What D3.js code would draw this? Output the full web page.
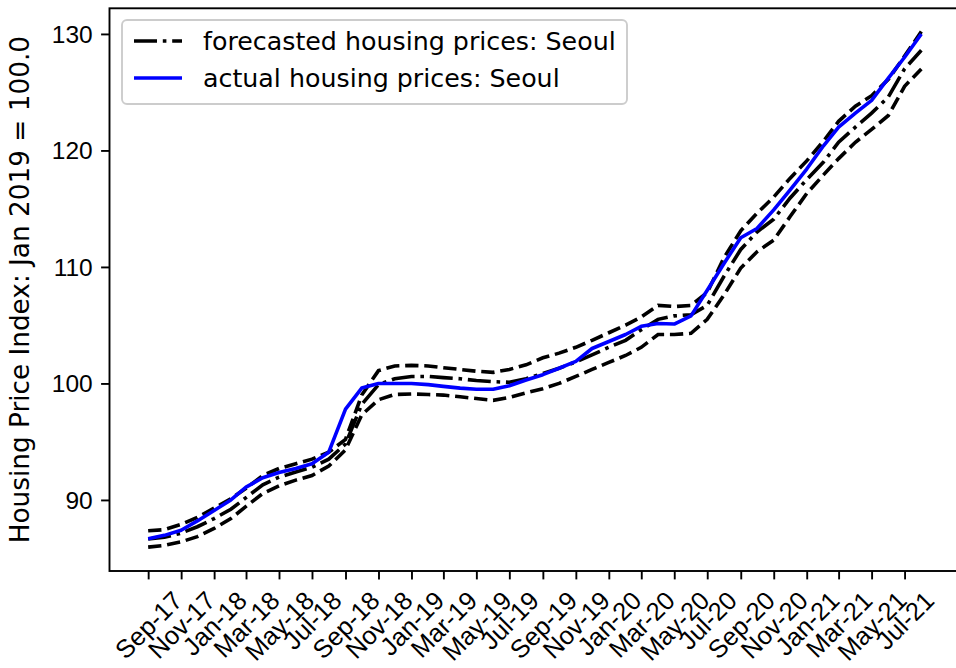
<!DOCTYPE html>
<html>
<head>
<meta charset="utf-8">
<script src="https://cdn.jsdelivr.net/npm/d3@7"></script>
<style>
	body { margin: 0; background: #fff; }
	svg { display: block; font-family: "DejaVu Sans", sans-serif; }
</style>
</head>
<body>
<script>

// monthly observations, Sep-17 .. Aug-21
let months = ["Sep-17","Oct-17","Nov-17","Dec-17","Jan-18","Feb-18","Mar-18","Apr-18","May-18","Jun-18","Jul-18","Aug-18",
	"Sep-18","Oct-18","Nov-18","Dec-18","Jan-19","Feb-19","Mar-19","Apr-19","May-19","Jun-19","Jul-19","Aug-19",
	"Sep-19","Oct-19","Nov-19","Dec-19","Jan-20","Feb-20","Mar-20","Apr-20","May-20","Jun-20","Jul-20","Aug-20",
	"Sep-20","Oct-20","Nov-20","Dec-20","Jan-21","Feb-21","Mar-21","Apr-21","May-21","Jun-21","Jul-21","Aug-21"];

let tickLabels = ["Sep-17","Nov-17","Jan-18","Mar-18","May-18","Jul-18","Sep-18","Nov-18","Jan-19","Mar-19","May-19","Jul-19",
	"Sep-19","Nov-19","Jan-20","Mar-20","May-20","Jul-20","Sep-20","Nov-20","Jan-21","Mar-21","May-21","Jul-21"];

let yTicks = [90, 100, 110, 120, 130];

let actual = [86.66, 86.96, 87.4, 88.2, 89.1, 90.0, 91.1, 91.9, 92.35, 92.7, 93.1, 94.1,
	97.8, 99.6, 100.0, 100.0, 100.0, 99.9, 99.75, 99.6, 99.5, 99.5, 99.8, 100.3,
	100.75, 101.3, 101.9, 103.0, 103.6, 104.2, 104.9, 105.15, 105.1, 105.8, 108.0, 110.3,
	112.5, 113.3, 114.9, 116.6, 118.4, 120.4, 122.0, 123.2, 124.3, 126.2, 128.0, 130.0];

let forecast = [86.65, 86.8, 87.15, 87.7, 88.4, 89.2, 90.2, 91.3, 91.95, 92.4, 92.8, 93.5,
	94.8, 98.2, 99.9, 100.4, 100.6, 100.6, 100.5, 100.4, 100.25, 100.15, 100.1, 100.4,
	100.85, 101.3, 101.85, 102.45, 103.1, 103.7, 104.6, 105.5, 105.8, 105.9, 106.7, 109.2,
	111.5, 113.0, 114.1, 115.9, 117.5, 119.0, 120.7, 122.0, 123.2, 124.6, 127.0, 128.6];

let upper = [87.35, 87.45, 87.9, 88.5, 89.3, 90.1, 91.0, 92.1, 92.7, 93.1, 93.5, 94.1,
	95.2, 99.0, 101.1, 101.5, 101.55, 101.5, 101.35, 101.2, 101.05, 100.95, 101.2, 101.6,
	102.2, 102.6, 103.1, 103.7, 104.35, 105.0, 105.7, 106.7, 106.6, 106.7, 107.8, 110.8,
	113.1, 114.6, 116.0, 117.6, 119.1, 120.8, 122.5, 123.8, 124.7, 126.1, 128.1, 130.2];

let lower = [85.95, 86.1, 86.4, 86.85, 87.55, 88.4, 89.45, 90.55, 91.2, 91.7, 92.1, 92.9,
	94.3, 97.3, 98.6, 99.05, 99.1, 99.05, 99.0, 98.85, 98.7, 98.55, 98.8, 99.2,
	99.55, 100.0, 100.6, 101.2, 101.8, 102.4, 103.1, 104.2, 104.2, 104.3, 105.5, 107.6,
	109.9, 111.3, 112.3, 114.3, 116.3, 117.9, 119.3, 120.7, 121.8, 123.0, 125.5, 127.0];

let width = 956;
let height = 668;

let plot = { left: 109.5, right: 960, top: 8.3, bottom: 571 };

let fsX = 25.5;
let fsY = 24.5;
let fsLegend = 25.3;
let fsLabel = 26.3;
let lw = 3.6;
let parseMonth = d3.timeParse("%b-%y");
let dates = months.map(parseMonth);

// matplotlib style 5% margin on the date axis
let t0 = dates[0].getTime(), t1 = dates[dates.length - 1].getTime();
let pad = (t1 - t0) * 0.05;

let xScale = d3.scaleTime()
	.domain([new Date(t0 - pad), new Date(t1 + pad)])
	.range([plot.left, plot.right]);

let yScale = d3.scaleLinear()
	.domain([83.9, 132.2])
	.range([plot.bottom, plot.top]);

let svg = d3.select("body")
	.append("svg")
		.attr("width", width)
		.attr("height", height);

svg.append("clipPath")
	.attr("id", "clip")
	.append("rect")
		.attr("x", plot.left)
		.attr("y", plot.top)
		.attr("width", plot.right - plot.left)
		.attr("height", plot.bottom - plot.top);

let line = d3.line()
	.x((d, i) => xScale(dates[i]))
	.y(d => yScale(d));

let dashed = [13.3, 5.8].join(",");
let dashdot = [23, 5.8, 3.6, 5.8].join(",");

let lines = svg.append("g").attr("clip-path", "url(#clip)");

lines.append("path")
	.attr("d", line(forecast))
	.style("fill", "none")
	.style("stroke", "#000")
	.style("stroke-width", lw)
	.style("stroke-dasharray", dashdot);

[upper, lower].forEach(s => {
	lines.append("path")
		.attr("d", line(s))
		.style("fill", "none")
		.style("stroke", "#000")
		.style("stroke-width", lw)
		.style("stroke-dasharray", dashed);
});

lines.append("path")
	.attr("d", line(actual))
	.style("fill", "none")
	.style("stroke", "#0000ff")
	.style("stroke-width", lw)
	.style("stroke-linejoin", "round");

// x axis with centred, 45 degree labels
let xAxis = d3.axisBottom(xScale)
	.tickValues(tickLabels.map(parseMonth))
	.tickFormat(d3.timeFormat("%b-%y"))
	.tickSize(8.4)
	.tickSizeOuter(0);

let gx = svg.append("g")
	.attr("transform", "translate(0," + plot.bottom + ")")
	.call(xAxis);

gx.select(".domain").remove();
gx.selectAll(".tick line").style("stroke", "#000").style("stroke-width", 1.9);
gx.selectAll(".tick text")
	.style("font-size", fsX + "px")
	.style("fill", "#000")
	.attr("text-anchor", "middle")
	.attr("x", 0)
	.attr("y", 0)
	.attr("dy", "0.346em")
	.attr("transform", function() {
		let w = this.getComputedTextLength();
		let h = (w + 1.164 * fsX) * Math.SQRT1_2;
		return "translate(0," + (14.5 + h / 2) + ") rotate(-45)";
	});

let yAxis = d3.axisLeft(yScale)
	.tickValues(yTicks)
	.tickSize(8.4)
	.tickPadding(8.4)
	.tickSizeOuter(0);

let gy = svg.append("g")
	.attr("transform", "translate(" + plot.left + ",0)")
	.call(yAxis);

gy.select(".domain").remove();
gy.selectAll(".tick line").style("stroke", "#000").style("stroke-width", 1.9);
gy.selectAll(".tick text")
	.style("font-size", fsY + "px")
	.style("fill", "#000")
	.attr("dy", "0.346em");

// spines
svg.append("rect")
	.attr("x", plot.left)
	.attr("y", plot.top)
	.attr("width", plot.right - plot.left)
	.attr("height", plot.bottom - plot.top)
	.style("fill", "none")
	.style("stroke", "#000")
	.style("stroke-width", 1.9);

svg.append("text")
	.attr("transform", "translate(20," + ((plot.top + plot.bottom) / 2) + ") rotate(-90)")
	.attr("text-anchor", "middle")
	.attr("dy", "0.346em")
	.style("font-size", fsLabel + "px")
	.text("Housing Price Index: Jan 2019 = 100.0");

// legend
let legendItems = [
	{ label: "forecasted housing prices: Seoul", color: "#000", dash: dashdot },
	{ label: "actual housing prices: Seoul", color: "#0000ff", dash: null }
];

let legend = svg.append("g");

legend.append("rect")
	.attr("x", 122)
	.attr("y", 20)
	.attr("width", 505)
	.attr("height", 84)
	.attr("rx", 5)
	.style("fill", "#fff")
	.style("fill-opacity", 0.8)
	.style("stroke", "#cccccc")
	.style("stroke-width", 1.9);

legendItems.forEach((d, i) => {
	let y = 41 + i * 37;
	legend.append("line")
		.attr("x1", 134)
		.attr("x2", 182)
		.attr("y1", y)
		.attr("y2", y)
		.style("stroke", d.color)
		.style("stroke-width", lw)
		.style("stroke-dasharray", d.dash);
	legend.append("text")
		.attr("x", 203)
		.attr("y", y)
		.attr("dy", "0.346em")
		.style("font-size", fsLegend + "px")
		.text(d.label);
});

</script>
</body>
</html>
